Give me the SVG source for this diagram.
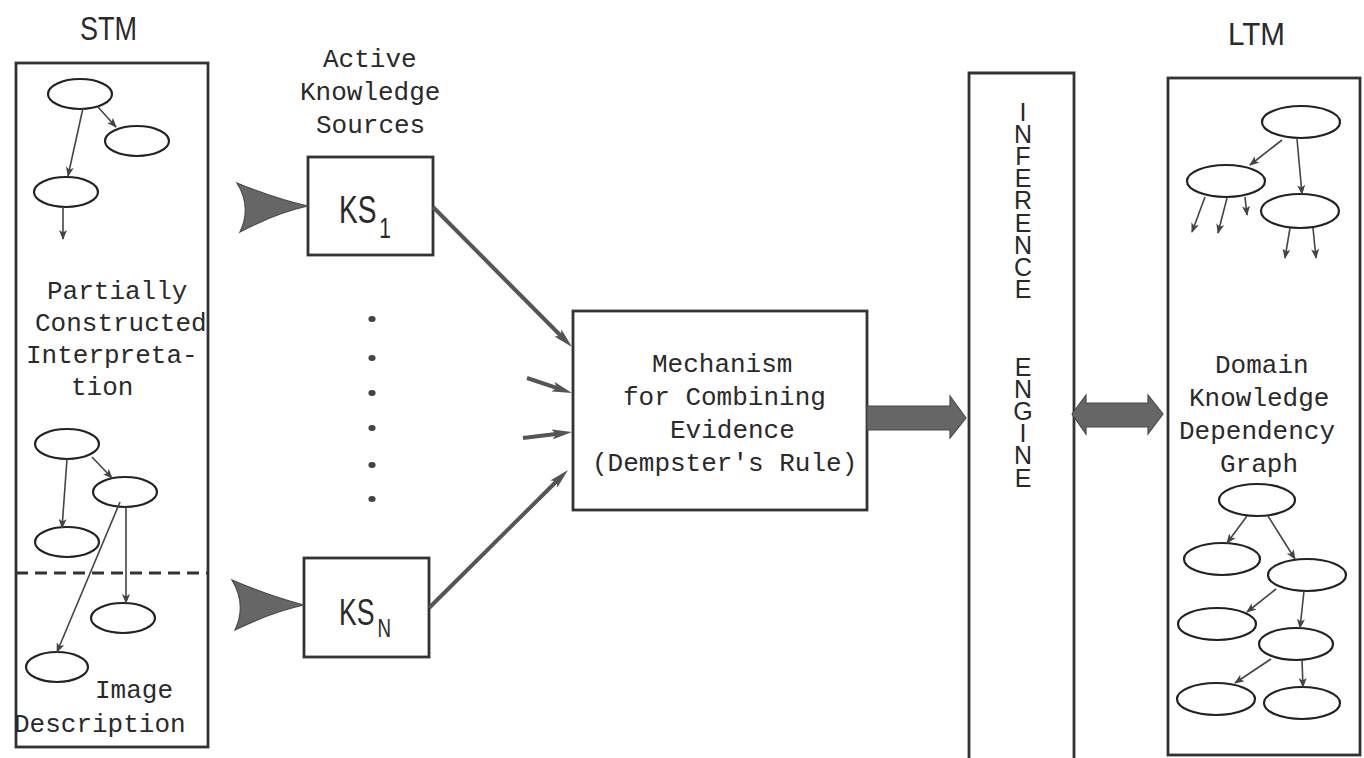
<svg xmlns="http://www.w3.org/2000/svg" width="1364" height="758" viewBox="0 0 1364 758">
<defs>
<style>
.box{fill:none;stroke:#333;stroke-width:2.8}
.ell{fill:none;stroke:#222;stroke-width:2.2}
.thin{fill:none;stroke:#444;stroke-width:1.6}
.thick{fill:none;stroke:#555;stroke-width:4}
.mono{font-family:"Liberation Mono","Courier New",monospace;font-size:26px;fill:#2a2a2a}
.sans{font-family:"Liberation Sans",Arial,sans-serif;fill:#2a2a2a}
.vert{writing-mode:vertical-rl;text-orientation:upright;font-size:25px;letter-spacing:-5.9px}
.blk{fill:#666;stroke:#4a4a4a;stroke-width:1.2}
</style>
<marker id="sm" viewBox="0 0 10 8" refX="9" refY="4" markerWidth="10" markerHeight="8" markerUnits="userSpaceOnUse" orient="auto">
<path d="M0,0 L10,4 L0,8 L2.5,4 Z" fill="#444"/>
</marker>
<marker id="big" viewBox="0 0 20 10" refX="10" refY="5" markerWidth="20" markerHeight="10" markerUnits="userSpaceOnUse" orient="auto">
<path d="M0,0 L20,5 L0,10 L4,5 Z" fill="#555"/>
</marker>
</defs>
<rect width="1364" height="758" fill="#fff"/>

<g id="stm">
<text class="sans" x="80" y="40" font-size="33" textLength="57" lengthAdjust="spacingAndGlyphs">STM</text>
<rect class="box" x="16" y="63" width="192" height="684"/>
<line x1="16" y1="573" x2="208" y2="573" stroke="#333" stroke-width="3" stroke-dasharray="12 7"/>
<ellipse class="ell" cx="80" cy="94" rx="32" ry="15"/>
<ellipse class="ell" cx="137" cy="141" rx="32" ry="15"/>
<ellipse class="ell" cx="66" cy="192" rx="32" ry="15"/>
<text class="mono" x="47" y="299">Partially</text>
<text class="mono" x="35" y="331">Constructed</text>
<text class="mono" x="26" y="363">Interpreta-</text>
<text class="mono" x="71" y="395">tion</text>
<ellipse class="ell" cx="67" cy="444" rx="32" ry="15"/>
<ellipse class="ell" cx="125" cy="492" rx="32" ry="15"/>
<ellipse class="ell" cx="67" cy="542" rx="32" ry="15"/>
<ellipse class="ell" cx="123" cy="618" rx="32" ry="15"/>
<ellipse class="ell" cx="57" cy="667" rx="31" ry="15"/>
<text class="mono" x="95" y="698">Image</text>
<text class="mono" x="14" y="732">Description</text>
</g>

<g id="ks-label">
<text class="mono" x="323" y="67">Active</text>
<text class="mono" x="300" y="100">Knowledge</text>
<text class="mono" x="316" y="133">Sources</text>
</g>

<g id="ks1">
<rect class="box" x="308" y="157" width="125" height="98"/>
<text class="sans" font-size="39" transform="translate(339 223) scale(0.72 1)">KS<tspan dx="4" dy="15" font-size="29">1</tspan></text>
</g>

<g id="ksn">
<rect class="box" x="304" y="558" width="125" height="99"/>
<text class="sans" font-size="37" transform="translate(339 625) scale(0.72 1)">KS<tspan dx="4" dy="12" font-size="26">N</tspan></text>
</g>

<g id="dots" fill="#444">
<ellipse cx="372" cy="319" rx="3.6" ry="3"/>
<ellipse cx="372" cy="358" rx="3.6" ry="3"/>
<ellipse cx="372" cy="393" rx="3.6" ry="3"/>
<ellipse cx="372" cy="428" rx="3.6" ry="3"/>
<ellipse cx="372" cy="465" rx="3.6" ry="3"/>
<ellipse cx="372" cy="499" rx="3.6" ry="3"/>
</g>

<g id="mechanism">
<rect class="box" x="573" y="311" width="294" height="199"/>
<text class="mono" x="652" y="372">Mechanism</text>
<text class="mono" x="623" y="405">for Combining</text>
<text class="mono" x="670" y="438">Evidence</text>
<text class="mono" x="592" y="471">(Dempster's Rule)</text>
</g>

<g id="inference">
<path class="box" d="M969,758 L969,73 L1074,73 L1074,758"/>
<text class="sans vert" x="1023" y="98">INFERENCE</text>
<text class="sans vert" x="1023" y="353">ENGINE</text>
</g>

<g id="ltm">
<text class="sans" x="1228" y="45" font-size="31" textLength="57" lengthAdjust="spacingAndGlyphs">LTM</text>
<rect class="box" x="1168" y="78" width="192" height="677"/>
<ellipse class="ell" cx="1301" cy="122" rx="39" ry="16"/>
<ellipse class="ell" cx="1226" cy="181" rx="39" ry="16"/>
<ellipse class="ell" cx="1300" cy="211" rx="39" ry="17"/>
<text class="mono" x="1215" y="373">Domain</text>
<text class="mono" x="1189" y="406">Knowledge</text>
<text class="mono" x="1179" y="439">Dependency</text>
<text class="mono" x="1220" y="472">Graph</text>
<ellipse class="ell" cx="1257" cy="500" rx="38" ry="16"/>
<ellipse class="ell" cx="1222" cy="559" rx="38" ry="16"/>
<ellipse class="ell" cx="1307" cy="575" rx="39" ry="16"/>
<ellipse class="ell" cx="1217" cy="624" rx="39" ry="16"/>
<ellipse class="ell" cx="1296" cy="644" rx="37" ry="16"/>
<ellipse class="ell" cx="1216" cy="699" rx="39" ry="16"/>
<ellipse class="ell" cx="1302" cy="703" rx="38" ry="16"/>
</g>

<g id="connectors">
<line class="thin" x1="83" y1="108" x2="68" y2="176" marker-end="url(#sm)"/>
<line class="thin" x1="98" y1="107" x2="116" y2="127" marker-end="url(#sm)"/>
<line class="thin" x1="63" y1="207" x2="63" y2="239" marker-end="url(#sm)"/>
<line class="thin" x1="67" y1="459" x2="62" y2="528" marker-end="url(#sm)"/>
<line class="thin" x1="92" y1="457" x2="112" y2="478" marker-end="url(#sm)"/>
<line class="thin" x1="126" y1="507" x2="126" y2="603" marker-end="url(#sm)"/>
<line class="thin" x1="120" y1="502" x2="57" y2="652" marker-end="url(#sm)"/>
<line class="thin" x1="1282" y1="140" x2="1250" y2="165" marker-end="url(#sm)"/>
<line class="thin" x1="1297" y1="139" x2="1302" y2="194" marker-end="url(#sm)"/>
<line class="thin" x1="1205" y1="197" x2="1192" y2="232" marker-end="url(#sm)"/>
<line class="thin" x1="1227" y1="198" x2="1218" y2="233" marker-end="url(#sm)"/>
<line class="thin" x1="1245" y1="197" x2="1247" y2="215" marker-end="url(#sm)"/>
<line class="thin" x1="1290" y1="228" x2="1285" y2="258" marker-end="url(#sm)"/>
<line class="thin" x1="1313" y1="228" x2="1316" y2="258" marker-end="url(#sm)"/>
<line class="thin" x1="1247" y1="516" x2="1227" y2="543" marker-end="url(#sm)"/>
<line class="thin" x1="1268" y1="516" x2="1295" y2="559" marker-end="url(#sm)"/>
<line class="thin" x1="1276" y1="589" x2="1247" y2="612" marker-end="url(#sm)"/>
<line class="thin" x1="1304" y1="591" x2="1300" y2="628" marker-end="url(#sm)"/>
<line class="thin" x1="1271" y1="659" x2="1235" y2="683" marker-end="url(#sm)"/>
<line class="thin" x1="1302" y1="660" x2="1303" y2="687" marker-end="url(#sm)"/>
<path class="blk" d="M237,183 Q276,199 308,206 Q276,213 240,232 Q252,207 237,183 Z"/>
<path class="blk" d="M232,580 Q272,597 304,605 Q272,612 235,630 Q247,605 232,580 Z"/>
<line class="thick" x1="433" y1="207" x2="565" y2="340" marker-end="url(#big)"/>
<line class="thick" x1="527" y1="378" x2="562.5" y2="389.8" marker-end="url(#big)"/>
<line class="thick" x1="523" y1="438" x2="562.1" y2="433.2" marker-end="url(#big)"/>
<line class="thick" x1="429" y1="608" x2="560.9" y2="477" marker-end="url(#big)"/>
<polygon class="blk" points="867,406 950,406 950,396 966,418 950,438 950,430 867,430"/>
<polygon class="blk" points="1072,414 1086,395 1086,403 1148,403 1148,395 1163,414 1148,434 1148,427 1086,427 1086,434"/>
</g>
</svg>
